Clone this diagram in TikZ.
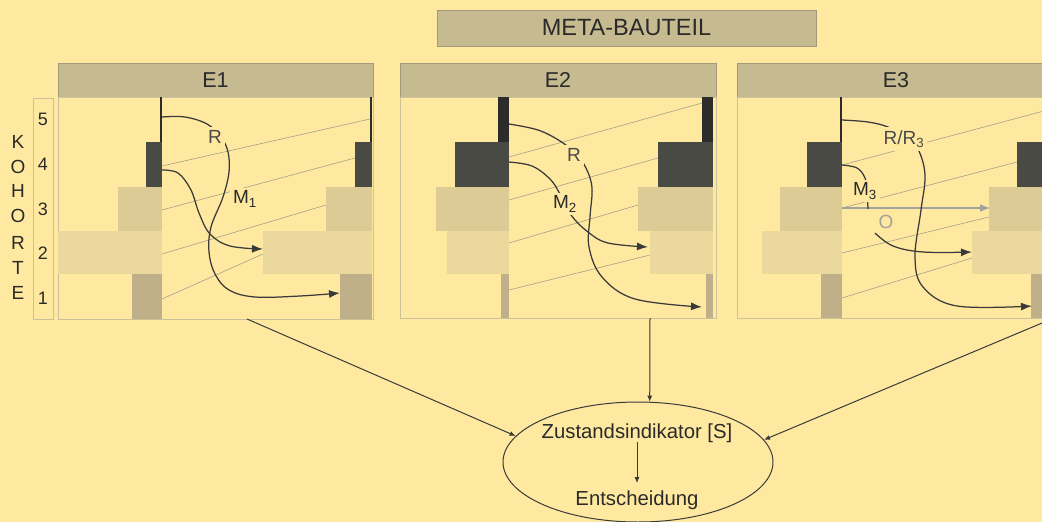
\documentclass[tikz,border=0pt]{standalone}
\usepackage{fontspec}
\setmainfont{Liberation Sans}
\usetikzlibrary{arrows.meta,fit,shapes.geometric}
\definecolor{bg}{HTML}{FFE9A0}
\definecolor{hdr}{HTML}{C6BA90}
\definecolor{hdrline}{HTML}{A39A7B}
\definecolor{blk}{HTML}{2C2C2A}
\definecolor{dark}{HTML}{4A4A44}
\definecolor{tanA}{HTML}{DDCB95}
\definecolor{tanB}{HTML}{EAD89C}
\definecolor{tanC}{HTML}{BFB08A}
\definecolor{pborder}{HTML}{CDC19A}
\definecolor{thin}{HTML}{A5A08C}
\definecolor{curve}{HTML}{3A3A3A}
\definecolor{txt}{HTML}{2A2A2A}
\definecolor{lbl}{HTML}{4A4A4A}
\definecolor{ogray}{HTML}{A3A39C}
\newcommand{\mybox}[6]{\node[#6,fit={(#2,#3)(#4,#5)},inner sep=0pt,outer sep=0pt] (#1) {};}
\newcommand{\fs}[1]{\fontsize{#1}{#1}\selectfont}
\begin{document}
\begin{tikzpicture}[x=1pt,y=-1pt,
  hdrbox/.style={fill=hdr,draw=hdrline,line width=0.8pt},
  panel/.style={draw=pborder,line width=1pt},
  kbox/.style={draw=pborder,line width=0.8pt},
  sblk/.style={fill=blk},
  sdark/.style={fill=dark},
  stanA/.style={fill=tanA},
  stanB/.style={fill=tanB},
  stanC/.style={fill=tanC},
  thinln/.style={draw=thin,line width=0.6pt},
  crv/.style={draw=curve,line width=1.25pt,-{Latex[length=11pt,width=8pt]}},
  crvn/.style={draw=curve,line width=1.25pt},
  oarrow/.style={draw=ogray,line width=1.2pt,-{Latex[length=10pt,width=8pt]}},
  lbl/.style={fill=bg,inner sep=3pt,text=lbl,font=\fs{19}},
  htxt/.style={text=txt,font=\fs{21.5}},
  ktxt/.style={text=txt,font=\fs{19}},
  ntxt/.style={text=txt,font=\fs{18}},
  etxt/.style={text=txt,font=\fs{20.3},inner sep=0pt,anchor=base},
  bot/.style={draw=curve,line width=1pt,-{Latex[length=6pt,width=5pt]}}
]
\useasboundingbox (0,0) rectangle (1042,522);
\clip (0,0) rectangle (1042,522);
\fill[bg] (0,0) rectangle (1042,522);

% top header
\mybox{hM}{437}{10}{816}{46}{hdrbox}
\node[htxt,font=\fs{23.5}] (tM) at (hM.center) {META-BAUTEIL};

% KOHORTE
\mybox{kb}{33}{98}{53}{319}{kbox}
\foreach \ch/\yy [count=\i] in {K/142,O/167,H/191,O/216,R/243,T/268,E/293}
  \node[ktxt] (k\i) at (18,\yy) {\ch};
\foreach \nn/\yy in {5/119,4/164,3/209,2/253,1/298}
  \node[ntxt] (n\nn) at (43,\yy) {\nn};

% panels
\mybox{h1}{58}{63}{373}{97}{hdrbox}
\mybox{p1}{58}{97}{373}{319}{panel}
\mybox{h2}{400}{63}{716}{97}{hdrbox}
\mybox{p2}{400}{97}{716}{318}{panel}
\mybox{h3}{737}{63}{1055}{97}{hdrbox}
\mybox{p3}{737}{97}{1055}{318}{panel}
\node[htxt] (t1) at (h1.center) {E1};
\node[htxt] (t2) at (h2.center) {E2};
\node[htxt] (t3) at (h3.center) {E3};

% E1 blocks
\mybox{bL1}{160}{97}{162}{142}{sblk}
\mybox{dL1}{146}{142}{162}{187}{sdark}
\mybox{aL1}{118}{187}{162}{231}{stanA}
\mybox{cL1}{58}{231}{162}{274}{stanB}
\mybox{eL1}{132}{274}{162}{319}{stanC}
\mybox{bR1}{370}{97}{372}{142}{sblk}
\mybox{dR1}{355}{142}{372}{187}{sdark}
\mybox{aR1}{326}{187}{372}{231}{stanA}
\mybox{cR1}{263}{231}{372}{274}{stanB}
\mybox{eR1}{340}{274}{372}{319}{stanC}

% E2 blocks
\mybox{bL2}{498}{97}{509}{142}{sblk}
\mybox{dL2}{455}{142}{509}{187}{sdark}
\mybox{aL2}{436}{187}{509}{231}{stanA}
\mybox{cL2}{447}{231}{509}{274}{stanB}
\mybox{eL2}{501}{274}{509}{318}{stanC}
\mybox{bR2}{702}{97}{713}{142}{sblk}
\mybox{dR2}{658}{142}{713}{187}{sdark}
\mybox{aR2}{638}{187}{713}{231}{stanA}
\mybox{cR2}{650}{231}{713}{274}{stanB}
\mybox{eR2}{706}{274}{713}{318}{stanC}

% E3 blocks
\mybox{bL3}{840}{97}{842}{142}{sblk}
\mybox{dL3}{807}{142}{842}{187}{sdark}
\mybox{aL3}{780}{187}{842}{231}{stanA}
\mybox{cL3}{762}{231}{842}{274}{stanB}
\mybox{eL3}{821}{274}{842}{318}{stanC}
\mybox{dR3}{1017}{142}{1050}{187}{sdark}
\mybox{aR3}{989}{187}{1050}{231}{stanA}
\mybox{cR3}{972}{231}{1050}{274}{stanB}
\mybox{eR3}{1031}{274}{1050}{318}{stanC}

% thin lines E1
\coordinate (s11) at (162,166); \coordinate (e11) at (370,119);
\coordinate (s12) at (162,210); \coordinate (e12) at (355,158);
\coordinate (s13) at (162,254); \coordinate (e13) at (326,205);
\coordinate (s14) at (162,299); \coordinate (e14) at (263,254);
% thin lines E2
\coordinate (s21) at (509,157); \coordinate (e21) at (702,103);
\coordinate (s22) at (509,200); \coordinate (e22) at (658,158);
\coordinate (s23) at (509,243); \coordinate (e23) at (638,205);
\coordinate (s24) at (509,290); \coordinate (e24) at (650,255);
% thin lines E3
\coordinate (s31) at (842,165); \coordinate (e31) at (1055,108);
\coordinate (s32) at (842,208); \coordinate (e32) at (1017,162);
\coordinate (s33) at (842,253); \coordinate (e33) at (989,217);
\coordinate (s34) at (842,298); \coordinate (e34) at (972,258);
\foreach \p in {1,2,3}
  \foreach \q in {1,2,3,4}
    \draw[thinln] (s\p\q) -- (e\p\q);

% O arrow (E3)
\coordinate (oS) at (842,208); \coordinate (oE) at (990,208);
\draw[oarrow] (oS) -- (oE);

% curves E1
\coordinate (r1s) at (162,117); \coordinate (r1e) at (340,293);
\draw[crv] plot[smooth,tension=0.6] coordinates {(r1s) (185,117) (207,124) (221,137) (228,152) (229,172) (223,197) (211,227) (209,252) (215,274) (229,290) (255,297) (300,296) (r1e)};
\coordinate (m1s) at (162,170); \coordinate (m1e) at (263,249);
\draw[crv] plot[smooth,tension=0.6] coordinates {(m1s) (178,173) (191,190) (199,213) (210,234) (230,246) (m1e)};

% curves E2
\coordinate (r2s) at (509,124); \coordinate (r2e) at (702,307);
\draw[crv] plot[smooth,tension=0.6] coordinates {(r2s) (538,130) (560,141) (575,153) (586,168) (592,188) (590,217) (589,247) (602,277) (635,299) (r2e)};
\coordinate (m2s) at (509,162); \coordinate (m2e) at (648,247);
\draw[crv] plot[smooth,tension=0.6] coordinates {(m2s) (532,166) (550,179) (560,194) (571,215) (588,232) (608,243) (m2e)};

% curves E3
\coordinate (r3s) at (842,120); \coordinate (r3e) at (1032,306);
\draw[crv] plot[smooth,tension=0.6] coordinates {(r3s) (868,122) (888,127) (906,137) (918,149) (925,175) (921,210) (915,257) (923,287) (957,306) (r3e)};
\coordinate (m3s) at (842,165); \coordinate (m3e) at (868,209);
\draw[crvn] plot[smooth,tension=0.6] coordinates {(m3s) (857,168) (865,178) (867,192) (m3e)};
\coordinate (o3s) at (875,233); \coordinate (o3e) at (972,252);
\draw[crv] plot[smooth,tension=0.6] coordinates {(o3s) (893,246) (923,252) (o3e)};

% labels
\node[lbl] (lr1) at (215,137) {R};
\node[lbl,text=txt] (lm1) at (245,199) {M\textsubscript{1}};
\node[lbl] (lr2) at (574,155) {R};
\node[lbl,text=txt] (lm2) at (565,204) {M\textsubscript{2}};
\node[lbl] (lr3) at (904,139) {R/R\textsubscript{3}};
\node[lbl,text=txt] (lm3) at (865,191) {M\textsubscript{3}};
\node[lbl,fill=none,text=ogray] (lo) at (886,222) {O};

% bottom ellipse
\node[draw=curve,line width=1pt,ellipse,minimum width=270pt,minimum height=120pt,inner sep=0pt] (ell) at (638,462) {};
\node[etxt] (zi) at (637,438) {Zustandsindikator [S]};
\node[etxt] (ent) at (637,505) {Entscheidung};
\draw[bot,shorten >=7pt] (zi.south) -- (ent.north);

\coordinate (f1) at (247,319);
\coordinate (f2) at (650,318);
\coordinate (f3) at (1054,318);
\draw[bot] (f1) -- (ell.168);
\draw[bot] (f2) -- (ell.79);
\draw[bot] (f3) -- (ell.10);
\end{tikzpicture}
\end{document}
